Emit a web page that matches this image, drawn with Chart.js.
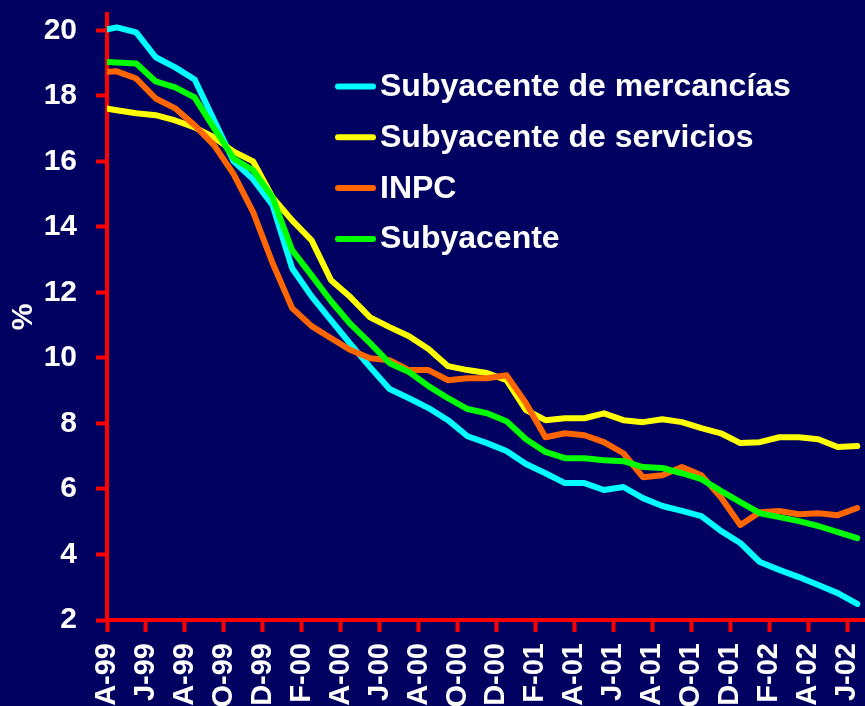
<!DOCTYPE html>
<html>
<head>
<meta charset="utf-8">
<title>Inflación subyacente</title>
<script src="https://cdn.jsdelivr.net/npm/chart.js@4"></script>
<style>
  html, body { margin: 0; padding: 0; background: #000060; overflow: hidden; }
  #wrap { position: relative; width: 870px; height: 706px; }
</style>
</head>
<body>
<div id="wrap"><canvas id="chart"></canvas></div>
<script>
// monthly, Mar-99 .. Jun-02 (Mar-99 only shows as the stub at the axis)
const months = [
  'M-99', 'A-99', 'M-99', 'J-99', 'J-99', 'A-99', 'S-99', 'O-99', 'N-99', 'D-99',
  'E-00', 'F-00', 'M-00', 'A-00', 'M-00', 'J-00', 'J-00', 'A-00', 'S-00', 'O-00', 'N-00', 'D-00',
  'E-01', 'F-01', 'M-01', 'A-01', 'M-01', 'J-01', 'J-01', 'A-01', 'S-01', 'O-01', 'N-01', 'D-01',
  'E-02', 'F-02', 'M-02', 'A-02', 'M-02', 'J-02'
];

const mercancias = [
  19.97, 20.09, 19.94, 19.18, 18.87, 18.50, 17.25, 16.00, 15.45, 14.66,
  12.74, 11.88, 11.15, 10.42, 9.72, 9.05, 8.77, 8.47, 8.10, 7.61, 7.40, 7.16,
  6.76, 6.48, 6.18, 6.18, 5.97, 6.06, 5.72, 5.48, 5.33, 5.17, 4.72, 4.35,
  3.77, 3.53, 3.31, 3.07, 2.82, 2.49
];

const servicios = [
  17.66, 17.56, 17.47, 17.41, 17.25, 17.04, 16.73, 16.30, 16.00, 14.90,
  14.20, 13.59, 12.37, 11.85, 11.24, 10.94, 10.66, 10.27, 9.75, 9.63, 9.54, 9.32,
  8.41, 8.10, 8.16, 8.16, 8.31, 8.10, 8.04, 8.13, 8.04, 7.86, 7.70, 7.40,
  7.43, 7.58, 7.58, 7.52, 7.28, 7.31
];

const inpc = [
  18.72, 18.75, 18.53, 17.92, 17.62, 17.10, 16.49, 15.61, 14.45, 12.89,
  11.52, 10.97, 10.60, 10.24, 9.99, 9.93, 9.63, 9.63, 9.32, 9.38, 9.38, 9.47,
  8.62, 7.58, 7.70, 7.64, 7.43, 7.09, 6.36, 6.42, 6.67, 6.42, 5.75, 4.90,
  5.29, 5.33, 5.23, 5.26, 5.20, 5.42
];

const subyacente = [
  19.05, 19.02, 18.99, 18.44, 18.26, 17.95, 17.01, 16.09, 15.73, 14.90,
  13.29, 12.52, 11.73, 11.03, 10.45, 9.84, 9.57, 9.14, 8.77, 8.44, 8.31, 8.07,
  7.52, 7.13, 6.94, 6.94, 6.88, 6.85, 6.67, 6.64, 6.48, 6.30, 5.94, 5.60,
  5.26, 5.14, 5.02, 4.87, 4.68, 4.50
];

const yTicks = [2, 4, 6, 8, 10, 12, 14, 16, 18, 20];

const FONT = "'Liberation Sans', Arial, sans-serif";
const RED = '#ff0000';

// legend stacked vertically inside the plot
const sideLegend = {
  id: 'sideLegend',
  afterDraw(chart) {
    const ctx = chart.ctx;
    ctx.save();
    chart.data.datasets.forEach((ds, i) => {
      const y = 86.5 + i * 50.8;
      ctx.strokeStyle = ds.borderColor;
      ctx.lineWidth = 6;
      ctx.lineCap = 'round';
      ctx.beginPath();
      ctx.moveTo(338, y);
      ctx.lineTo(373, y);
      ctx.stroke();
      ctx.fillStyle = '#ffffff';
      ctx.font = 'bold 32px ' + FONT;
      ctx.textBaseline = 'alphabetic';
      ctx.fillText(ds.label, 380, y + 9.5);
    });
    ctx.restore();
  }
};

function line(label, data, color, order) {
  return {
    label, data,
    borderColor: color,
    backgroundColor: color,
    borderWidth: 6,
    pointRadius: 0,
    tension: 0,
    borderJoinStyle: 'round',
    borderCapStyle: 'round',
    clip: 0,
    order
  };
}

// keep the plot edges where the original had them
function noEdgePadding(s) {
  s.paddingLeft = 0;
  s.paddingRight = 0;
  s.paddingTop = 0;
  s.paddingBottom = 0;
}

new Chart(document.getElementById('chart'), {
  type: 'line',
  data: {
    labels: months,
    datasets: [
      line('Subyacente de mercancías', mercancias, '#00ffff', 4),
      line('Subyacente de servicios', servicios, '#ffff00', 3),
      line('INPC', inpc, '#ff6600', 2),
      line('Subyacente', subyacente, '#00ff00', 1)
    ]
  },
  options: {
    responsive: true,
    maintainAspectRatio: false,
    animation: false,
    layout: { padding: { left: 0, right: 3, top: 14, bottom: 0 } },
    plugins: { legend: { display: false }, tooltip: { enabled: false } },
    scales: {
      x: {
        type: 'category',
        min: 1,
        offset: true,
        z: 1,
        afterFit: s => { noEdgePadding(s); s.height = 86; },
        border: { color: RED, width: 4 },
        grid: {
          offset: true,
          drawOnChartArea: false,
          tickLength: 12,
          tickWidth: 4,
          tickColor: c => (c.tick && c.tick.value % 2 === 1) ? RED : 'rgba(0,0,0,0)'
        },
        ticks: {
          autoSkip: false,
          minRotation: 90,
          maxRotation: 90,
          labelOffset: -10,
          padding: 11,
          color: '#ffffff',
          font: { family: FONT, weight: 'bold', size: 29 },
          callback: v => (v % 2 === 1 ? months[v] : '')
        }
      },
      y: {
        min: 2,
        max: 20.5,
        z: 1,
        afterBuildTicks: s => { s.ticks = yTicks.map(v => ({ value: v })); },
        afterFit: s => { noEdgePadding(s); s.width = 107; },
        border: { color: RED, width: 4 },
        grid: {
          drawOnChartArea: false,
          color: RED,
          tickColor: RED,
          tickLength: 11,
          tickWidth: 4
        },
        ticks: {
          color: '#ffffff',
          padding: 19,
          font: { family: FONT, weight: 'bold', size: 30 }
        },
        title: {
          display: true,
          text: '%',
          color: '#ffffff',
          padding: { top: 6, bottom: 0 },
          font: { family: FONT, weight: 'bold', size: 30 }
        }
      }
    }
  },
  plugins: [sideLegend]
});
</script>
</body>
</html>
